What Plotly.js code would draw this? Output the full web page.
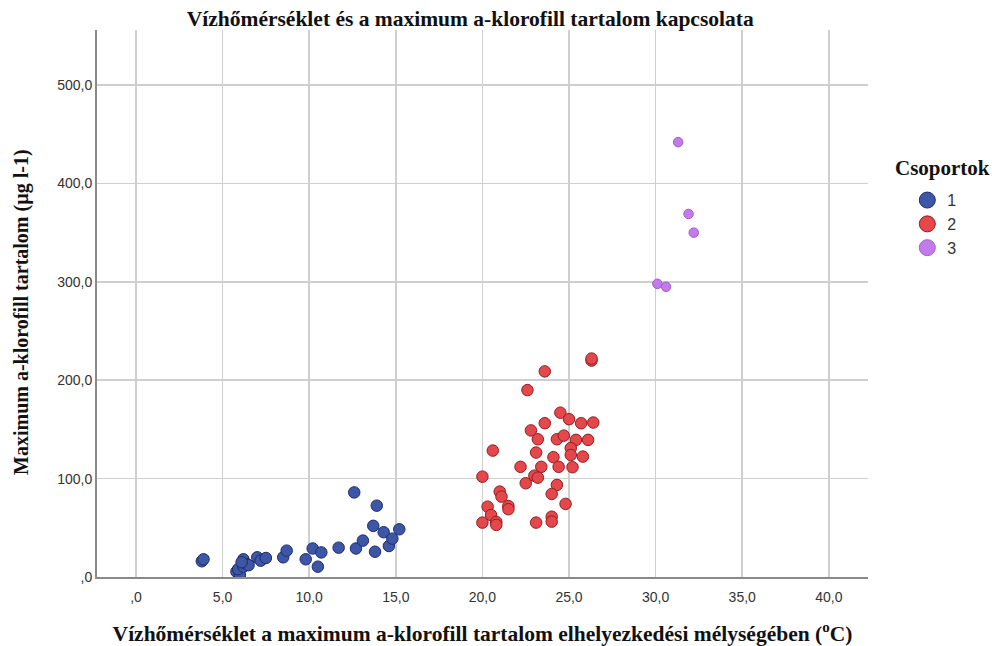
<!DOCTYPE html>
<html>
<head>
<meta charset="utf-8">
<script src="https://cdn.plot.ly/plotly-3.0.1.min.js"></script>
<style>html,body{margin:0;padding:0;background:#fff;}#chart{width:992px;height:646px;}</style>
</head>
<body>
<div id="chart"></div>
<script>
// Group 1 (Csoport 1)
const grp1X = [3.8, 3.9, 5.8, 6.0, 5.9, 6.2, 6.2, 6.4, 6.5, 6.1, 7.0, 7.2, 7.5, 8.5, 8.7, 9.8, 10.2, 10.5, 10.7, 11.7, 12.6, 12.7, 13.1, 13.7, 13.8, 13.9, 14.3, 14.6, 14.8, 15.2];
const grp1Y = [16, 18, 5.4, 2, 8, 18, 10.5, 13, 12, 15, 20, 16.6, 19.3, 20, 26.8, 18, 29, 10.5, 25, 29.8, 86, 29, 37, 52, 25.7, 72.5, 45.5, 31.5, 39, 48.5];
// Group 2
const grp2X = [26.3, 26.3, 23.6, 22.6, 24.5, 25.0, 25.7, 26.4, 23.6, 22.8, 23.2, 24.3, 24.7, 25.4, 26.1, 25.1, 20.6, 23.1, 25.1, 25.8, 24.1, 22.2, 23.4, 24.4, 25.2, 23.0, 23.2, 20.0, 22.5, 24.3, 21.0, 21.1, 24.0, 21.5, 21.5, 20.3, 24.8, 20.5, 20.0, 20.8, 20.8, 23.1, 24.0, 24.0];
const grp2Y = [220, 222, 209, 190, 167, 160.4, 156.3, 157, 156.3, 149, 140, 140, 143.7, 139.4, 139.4, 131, 128.5, 126.5, 124, 122.4, 121.8, 112, 112, 112, 111.6, 103, 101, 102, 95.3, 93.6, 86.8, 81.7, 84.4, 72.2, 68.9, 71.5, 74.3, 63, 55.3, 56, 53, 55.3, 61.3, 56.3];
// Group 3
const grp3X = [31.3, 31.9, 32.2, 30.1, 30.6];
const grp3Y = [442, 369, 350, 298, 295];

const groupNames = ["1", "2", "3"];
const xTickVals = [0, 5, 10, 15, 20, 25, 30, 35, 40];
const xTickText = [",0", "5,0", "10,0", "15,0", "20,0", "25,0", "30,0", "35,0", "40,0"];
const yTickVals = [0, 100, 200, 300, 400, 500];
const yTickText = [",0", "100,0", "200,0", "300,0", "400,0", "500,0"];

const titleText = "Vízhőmérséklet és a maximum a-klorofill tartalom kapcsolata";
const xTitle = "Vízhőmérséklet a maximum a-klorofill tartalom elhelyezkedési mélységében (<sup>o</sup>C)";
const yTitle = "Maximum a-klorofill tartalom (µg l-1)";
const legendTitle = "Csoportok";

const serif = "Liberation Serif, Times New Roman, serif";
const sans = "Liberation Sans, Arial, sans-serif";

const styles = [
  {size: 11.5, color: "#3d56a6", line: {color: "#1e2c6e", width: 1}},
  {size: 11.5, color: "#e5474b", line: {color: "#8e1f22", width: 1}},
  {size: 9.5, color: "#c37be9", line: {color: "#a35ccf", width: 1}}
];
const xs = [grp1X, grp2X, grp3X];
const ys = [grp1Y, grp2Y, grp3Y];

const traces = [];
for (let i = 0; i < 3; i++) {
  traces.push({x: xs[i], y: ys[i], name: groupNames[i], type: "scatter", mode: "markers",
               marker: styles[i], showlegend: false, legendgroup: groupNames[i]});
}
// legend-only entries with larger symbols (no points drawn)
for (let i = 0; i < 3; i++) {
  traces.push({x: [null], y: [null], name: groupNames[i], type: "scatter", mode: "markers",
               marker: Object.assign({}, styles[i], {size: 16}), showlegend: true, legendgroup: groupNames[i]});
}

const layout = {
  width: 992, height: 646,
  margin: {l: 97, r: 124, t: 30, b: 69},
  paper_bgcolor: "#ffffff", plot_bgcolor: "#ffffff",
  title: {text: "<b>" + titleText + "</b>", font: {family: serif, size: 21.5, color: "#111"},
          xref: "container", yref: "container", x: 0.474, xanchor: "center", y: 0.972, yanchor: "middle"},
  xaxis: {range: [-2.25, 42.26], tickvals: xTickVals, ticktext: xTickText,
          showgrid: true, gridcolor: "#cfcfcf", gridwidth: 1.5, zeroline: false,
          showline: true, linecolor: "#8a8a8a", linewidth: 2, ticks: "",
          ticklabelstandoff: 6,
          tickfont: {family: sans, size: 14, color: "#333"},
          title: {text: "<b>" + xTitle + "</b>", font: {family: serif, size: 21.5, color: "#111"}, standoff: 22},
          automargin: false},
  yaxis: {range: [0, 556], tickvals: yTickVals, ticktext: yTickText,
          showgrid: true, gridcolor: "#cfcfcf", gridwidth: 1.5, zeroline: false,
          showline: true, linecolor: "#8a8a8a", linewidth: 2, ticks: "",
          tickfont: {family: sans, size: 14, color: "#333"},
          automargin: false},
  annotations: [
    {text: "<b>" + yTitle + "</b>", xref: "paper", yref: "paper", x: -0.0973, y: 0.4845,
     xanchor: "center", yanchor: "middle", textangle: -90, showarrow: false,
     font: {family: serif, size: 20, color: "#111"}},
    {text: "<b>" + legendTitle + "</b>", xref: "paper", yref: "paper", x: 1.0324, y: (577 - 168) / 547,
     xanchor: "left", yanchor: "middle", showarrow: false,
     font: {family: serif, size: 21, color: "#111"}}
  ],
  legend: {x: 1.051, xanchor: "left", y: 0.72, yanchor: "top",
           font: {family: sans, size: 16, color: "#333"}, itemsizing: "trace", itemwidth: 30,
           bgcolor: "rgba(0,0,0,0)", tracegroupgap: 0},
  showlegend: true
};

Plotly.newPlot("chart", traces, layout, {staticPlot: true, displayModeBar: false});
</script>
</body>
</html>
